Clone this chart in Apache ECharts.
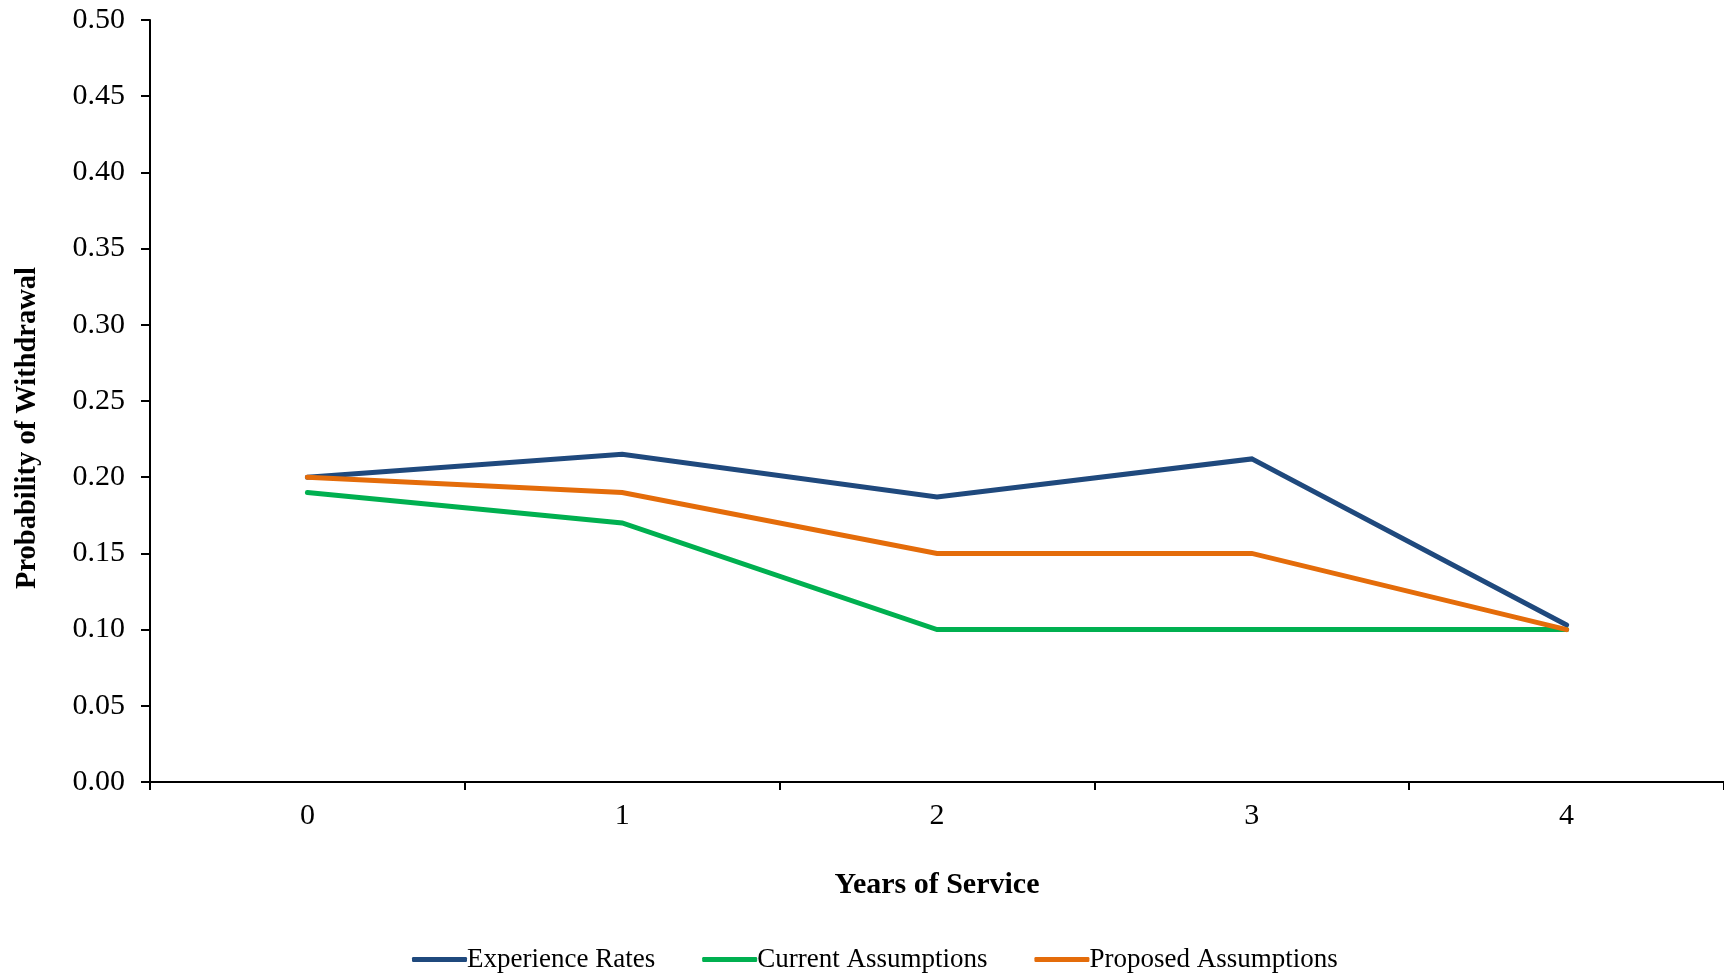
<!DOCTYPE html>
<html>
<head>
<meta charset="utf-8">
<title>Probability of Withdrawal</title>
<script src="https://cdn.jsdelivr.net/npm/echarts@6/dist/echarts.min.js"></script>
<style>
  html, body { margin: 0; padding: 0; background: #ffffff; }
  #chart { width: 1724px; height: 975px; }
</style>
</head>
<body>
<div id="chart"></div>
<script>
// Years of service on the horizontal axis
const years = ['0', '1', '2', '3', '4'];

// Withdrawal rates by year of service
const experienceRates = [0.200, 0.215, 0.187, 0.212, 0.103];
const currentAssumptions = [0.190, 0.170, 0.100, 0.100, 0.100];
const proposedAssumptions = [0.200, 0.190, 0.150, 0.150, 0.100];

const seriesNames = ['Experience Rates', 'Current Assumptions', 'Proposed Assumptions'];
const seriesColors = ['#1F497D', '#00B050', '#E46C0A'];

const FONT = '"Liberation Serif", "Times New Roman", serif';

const chart = echarts.init(document.getElementById('chart'), null, { renderer: 'canvas' });

const makeLine = (name, data, color) => ({
  name: name,
  type: 'line',
  data: data,
  symbol: 'none',
  smooth: false,
  lineStyle: { color: color, width: 5, cap: 'round', join: 'miter' },
  itemStyle: { color: color },
  z: 3
});

chart.setOption({
  backgroundColor: '#ffffff',
  animation: false,
  grid: { left: 150, right: 0, top: 20, bottom: 193, containLabel: false },
  xAxis: {
    type: 'category',
    data: years,
    boundaryGap: true,
    name: 'Years of Service',
    nameLocation: 'middle',
    nameGap: 88,
    nameTextStyle: { fontFamily: FONT, fontSize: 30, fontWeight: 'bold', color: '#000' },
    axisLine: { show: true, lineStyle: { color: '#000', width: 2 } },
    axisTick: { show: true, alignWithLabel: false, length: 8, lineStyle: { color: '#000', width: 2 } },
    axisLabel: { fontFamily: FONT, fontSize: 30, color: '#000', margin: 19 },
    splitLine: { show: false }
  },
  yAxis: {
    type: 'value',
    min: 0,
    max: 0.5,
    interval: 0.05,
    axisLine: { show: true, lineStyle: { color: '#000', width: 2 } },
    axisTick: { show: true, inside: false, length: 9, lineStyle: { color: '#000', width: 2 } },
    axisLabel: {
      fontFamily: FONT, fontSize: 30, color: '#000', margin: 25,
      formatter: v => v.toFixed(2)
    },
    splitLine: { show: false }
  },
  legend: {
    bottom: -3,
    left: 407,
    itemWidth: 55,
    itemHeight: 5,
    itemGap: 47,
    icon: 'roundRect',
    data: seriesNames,
    textStyle: { fontFamily: FONT, fontSize: 27, color: '#000', padding: [0, 0, 0, -5] }
  },
  graphic: [{
    type: 'text',
    left: 13,
    top: 267,
    rotation: Math.PI / 2,
    style: {
      text: 'Probability of Withdrawal',
      font: 'bold 28.5px ' + FONT,
      fill: '#000',
      textAlign: 'center',
      textVerticalAlign: 'middle'
    }
  }],
  series: [
    makeLine(seriesNames[0], experienceRates, seriesColors[0]),
    makeLine(seriesNames[1], currentAssumptions, seriesColors[1]),
    makeLine(seriesNames[2], proposedAssumptions, seriesColors[2])
  ]
});
</script>
</body>
</html>
